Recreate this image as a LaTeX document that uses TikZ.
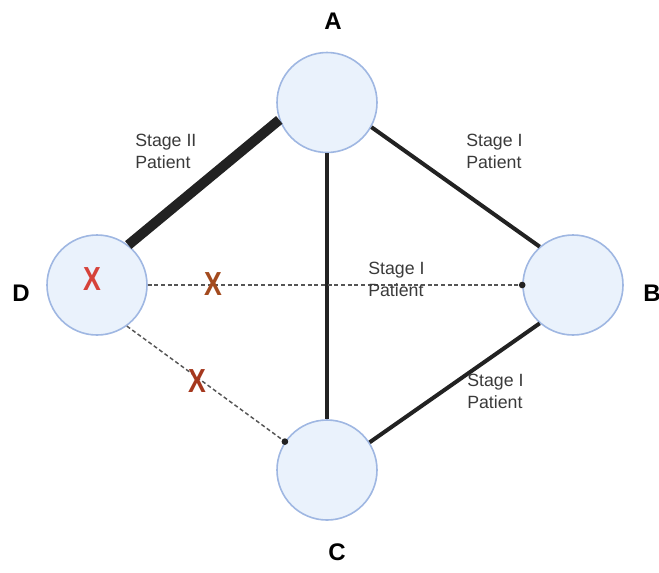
\documentclass[tikz,border=0pt]{standalone}
\usepackage{fontspec}
\setmainfont{Liberation Sans}
\definecolor{nodefill}{HTML}{EAF2FC}
\definecolor{nodeedge}{HTML}{9FB7E2}
\definecolor{linkdark}{HTML}{222222}
\definecolor{dotgray}{HTML}{555555}
\definecolor{xred}{HTML}{D6423A}
\definecolor{xbrown}{HTML}{A34A1E}
\definecolor{xrust}{HTML}{A5381E}
\definecolor{textgray}{HTML}{3A3A3A}
\begin{document}
\begin{tikzpicture}[x=0.75pt,y=-0.75pt,
  station/.style={circle,draw=nodeedge,line width=1.2pt,fill=nodefill,minimum size=75pt,inner sep=0pt},
  letter/.style={font=\bfseries\fontsize{18}{20}\selectfont,text=black},
  stagetxt/.style={font=\fontsize{13.3}{16.5}\selectfont,text=textgray,align=left,anchor=north west,inner sep=0pt},
  link/.style={draw=linkdark,line width=3pt},
  biglink/.style={draw=linkdark,line width=7.5pt},
  cut/.style={draw=dotgray,line width=1.1pt,dash pattern=on 3pt off 2pt},
  endpt/.style={circle,fill=linkdark,inner sep=0pt,minimum size=5pt},
  xmark/.style={font=\bfseries\fontsize{25}{26}\selectfont,xscale=0.8}]
\useasboundingbox (0,0) rectangle (659,572);

% the four stations
\node[station] (A) at (327,102.5) {};
\node[station] (B) at (573,285) {};
\node[station] (C) at (327,470) {};
\node[station] (D) at (97,285) {};

% links between stations
\draw[biglink] (A.200) -- (D.52);
\draw[link] (A.331) -- (B.131);
\draw[link] (A.south) -- (C.north);
\draw[link] (C.33) -- (B.229);
\draw[cut] (D.east) -- (B.west);
\draw[cut] (D.306) -- (C.146);
\node[endpt] (pB) at (B.west) {};
\node[endpt] (pC) at (C.146) {};

% corner letters
\node[letter] (lA) at (333,21) {A};
\node[letter] (lB) at (652,293) {B};
\node[letter] (lC) at (337,552) {C};
\node[letter] (lD) at (21,293) {D};

% crossed-out links
\node[xmark,text=xred] (xD) at (92,279) {X};
\node[xmark,text=xbrown] (xDB) at (213,284) {X};
\node[xmark,text=xrust] (xDC) at (197,381) {X};

% stage labels
\node[stagetxt] (sAD) at (135,134) {Stage II\\Patient};
\node[stagetxt] (sAB) at (466,134) {Stage I\\Patient};
\node[stagetxt] (sDB) at (368,262) {Stage I\\Patient};
\node[stagetxt] (sCB) at (467,374) {Stage I\\Patient};
\end{tikzpicture}
\end{document}
